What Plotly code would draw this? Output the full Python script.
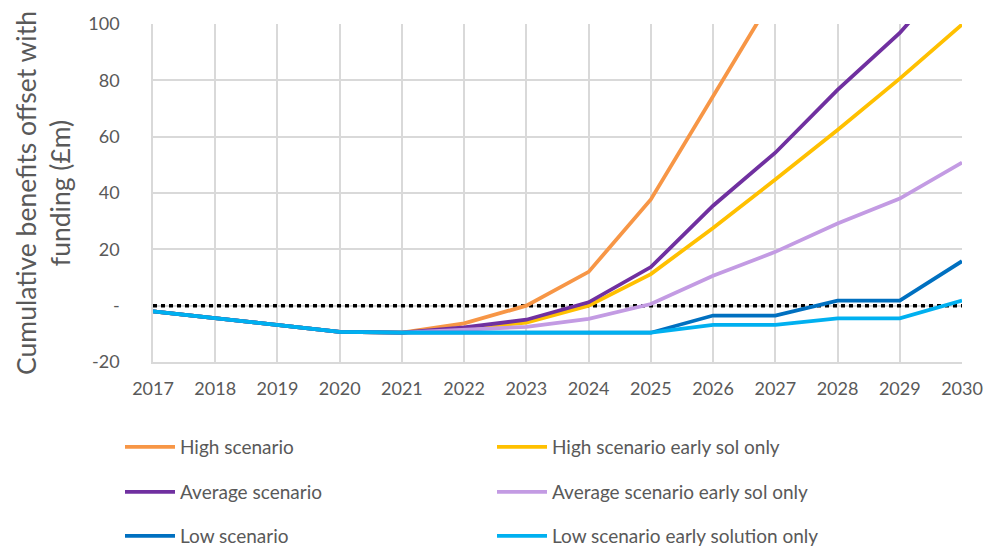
import plotly.graph_objects as go

years = list(range(2017, 2031))

high = [-2, -4.5, -7, -9.3, -9.6, -6.3, 0, 12, 37.7, 74, 111, 150, 190, 230]
high_early = [-2, -4.5, -7, -9.3, -9.6, -8, -6, 0, 11.2, 27.6, 44.8, 62.4, 80.6, 99.8]
average = [-2, -4.5, -7, -9.3, -9.6, -7.7, -5, 1.2, 13.7, 35.5, 54.3, 76.6, 96.8, 122]
average_early = [-2, -4.5, -7, -9.3, -9.6, -8.5, -7.5, -4.7, 0.6, 10.6, 19.1, 29.2, 38, 50.8]
low = [-2, -4.5, -7, -9.3, -9.6, -9.6, -9.6, -9.6, -9.6, -3.5, -3.5, 1.8, 1.8, 15.8]
low_early = [-2, -4.5, -7, -9.3, -9.6, -9.6, -9.6, -9.6, -9.6, -6.8, -6.8, -4.5, -4.5, 1.8]
zero = [0] * len(years)

y_tickvals = [-20, 0, 20, 40, 60, 80, 100]
y_ticktext = ["-20", "-", "20", "40", "60", "80", "100"]

series = [
    ("High scenario", high, "#F79646", "legend"),
    ("High scenario early sol only", high_early, "#FFC000", "legend"),
    ("Average scenario", average, "#7030A0", "legend2"),
    ("Average scenario early sol only", average_early, "#C39BE3", "legend2"),
    ("Low scenario", low, "#0070C0", "legend3"),
    ("Low scenario early solution only", low_early, "#00B0F0", "legend3"),
]

FONT = "Lato"
GREY = "#595959"

fig = go.Figure()
fig.add_trace(go.Scatter(x=years, y=zero, mode="lines", showlegend=False,
                         line=dict(color="black", width=3.5, dash="4px,4px"),
                         hoverinfo="skip"))
for name, vals, color, lg in series:
    fig.add_trace(go.Scatter(x=years, y=vals, mode="lines", name=name,
                             line=dict(color=color, width=3.8), legend=lg))

legend_common = dict(orientation="h", xref="container", yref="container",
                     x=120 / 995, xanchor="left", yanchor="middle",
                     font=dict(family=FONT, size=19, color=GREY),
                     itemwidth=50, entrywidth=307, entrywidthmode="pixels",
                     bgcolor="rgba(0,0,0,0)", traceorder="normal")

fig.update_layout(
    width=995, height=551,
    margin=dict(l=153, r=32, t=21, b=189),
    paper_bgcolor="white", plot_bgcolor="white",
    font=dict(family=FONT, color=GREY),
    legend=dict(**legend_common, y=1 - 447 / 551),
    legend2=dict(**legend_common, y=1 - 492 / 551),
    legend3=dict(**legend_common, y=1 - 536 / 551),
    xaxis=dict(range=[2017, 2030], tickmode="array", tickvals=years,
               showgrid=True, gridcolor="#D9D9D9", gridwidth=1.5,
               showline=True, linecolor="#D9D9D9", linewidth=1.5,
               zeroline=False, ticks="", ticklabelstandoff=10,
               tickfont=dict(family=FONT, size=18, color=GREY)),
    yaxis=dict(range=[-20, 100], tickmode="array", tickvals=y_tickvals,
               ticktext=y_ticktext,
               showgrid=True, gridcolor="#D9D9D9", gridwidth=1.5,
               showline=True, linecolor="#D9D9D9", linewidth=1.5,
               zeroline=False, ticks="", ticklabelstandoff=28,
               tickfont=dict(family=FONT, size=18, color=GREY),
               title=dict(text="Cumulative benefits offset with<br>funding (£m)",
                          font=dict(family=FONT, size=26.5, color=GREY),
                          standoff=10)),
)

fig.write_html("out.html")
